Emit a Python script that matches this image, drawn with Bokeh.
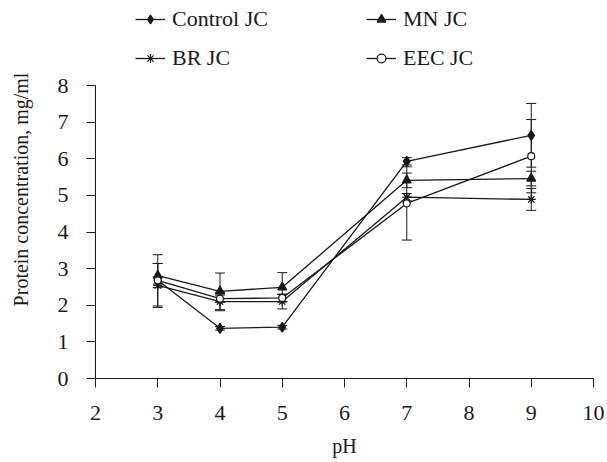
from bokeh.plotting import figure
from bokeh.models import ColumnDataSource, Whisker, TeeHead, Legend, LegendItem, FixedTicker, Range1d
from bokeh.embed import file_html
from bokeh.resources import INLINE

ph = [3, 4, 5, 7, 9]
control = [2.68, 1.37, 1.40, 5.93, 6.64]
control_err = [0.10, 0.05, 0.05, 0.10, 0.87]
mn = [2.81, 2.38, 2.49, 5.41, 5.46]
mn_err = [0.33, 0.50, 0.40, 0.20, 0.20]
br = [2.54, 2.10, 2.10, 4.95, 4.89]
br_err = [0.60, 0.25, 0.20, 0.10, 0.30]
eec = [2.68, 2.18, 2.20, 4.78, 6.07]
eec_err = [0.70, 0.10, 0.10, 1.00, 1.00]

x_ticks = [2, 3, 4, 5, 6, 7, 8, 9, 10]
y_ticks = [0, 1, 2, 3, 4, 5, 6, 7, 8]

FONT = "Liberation Serif"
INK = "#1a1a1a"

# frame spans the full height above the x axis; the y axis line stops at 8
p = figure(width=605, height=460, output_backend="svg", toolbar_location=None,
           x_range=Range1d(2, 10), y_range=Range1d(0, 8 * 378 / 293),
           min_border_left=95, min_border_right=12, min_border_top=0, min_border_bottom=82)
p.outline_line_color = None
p.grid.visible = False
p.background_fill_color = "white"

series = [
    ("Control JC", control, control_err, "diamond", INK, 10),
    ("MN JC", mn, mn_err, "triangle", INK, 9),
    ("BR JC", br, br_err, "asterisk", INK, 9),
    ("EEC JC", eec, eec_err, "circle", "white", 7),
]

items = {}
for name, ys, errs, marker, fill, size in series:
    src = ColumnDataSource(dict(x=ph, y=ys,
                                lo=[a - b for a, b in zip(ys, errs)],
                                hi=[a + b for a, b in zip(ys, errs)]))
    w = Whisker(source=src, base="x", upper="hi", lower="lo", line_color=INK, line_width=1,
                upper_head=TeeHead(size=10, line_color=INK, line_width=1),
                lower_head=TeeHead(size=10, line_color=INK, line_width=1))
    p.add_layout(w)
    r1 = p.line("x", "y", source=src, line_color=INK, line_width=1.3)
    r2 = p.scatter("x", "y", source=src, marker=marker, size=size, fill_color=fill,
                   line_color=INK, line_width=1.2)
    items[name] = LegendItem(label=name, renderers=[r1, r2])

order = ["Control JC", "BR JC", "MN JC", "EEC JC"]
legend = Legend(items=[items[k] for k in order], ncols=2, location=(40, 307),
                label_text_font=FONT, label_text_font_size="22px", label_text_color=INK,
                glyph_width=30, glyph_height=22, label_width=181, label_standoff=7,
                spacing=13, padding=0, margin=0, border_line_color=None,
                background_fill_alpha=0, label_height=22)
p.add_layout(legend)

for ax in [p.xaxis[0], p.yaxis[0]]:
    ax.major_label_text_font = FONT
    ax.major_label_text_font_size = "22px"
    ax.major_label_text_color = INK
    ax.axis_label_text_font = FONT
    ax.axis_label_text_font_size = "20px"
    ax.axis_label_text_font_style = "normal"
    ax.axis_label_text_color = INK
    ax.axis_line_color = INK
    ax.major_tick_line_color = INK
    ax.minor_tick_line_color = None
    ax.major_tick_in = 0
    ax.major_tick_out = 9

p.yaxis[0].bounds = (0, 8)
p.xaxis[0].ticker = FixedTicker(ticks=x_ticks)
p.yaxis[0].ticker = FixedTicker(ticks=y_ticks)
p.xaxis[0].axis_label = "pH"
p.yaxis[0].axis_label = "Protein concentration, mg/ml"
p.xaxis[0].major_label_standoff = 18
p.yaxis[0].major_label_standoff = 18
p.xaxis[0].axis_label_standoff = 12
p.yaxis[0].axis_label_standoff = 23

open("out.html", "w").write(file_html(p, INLINE))
